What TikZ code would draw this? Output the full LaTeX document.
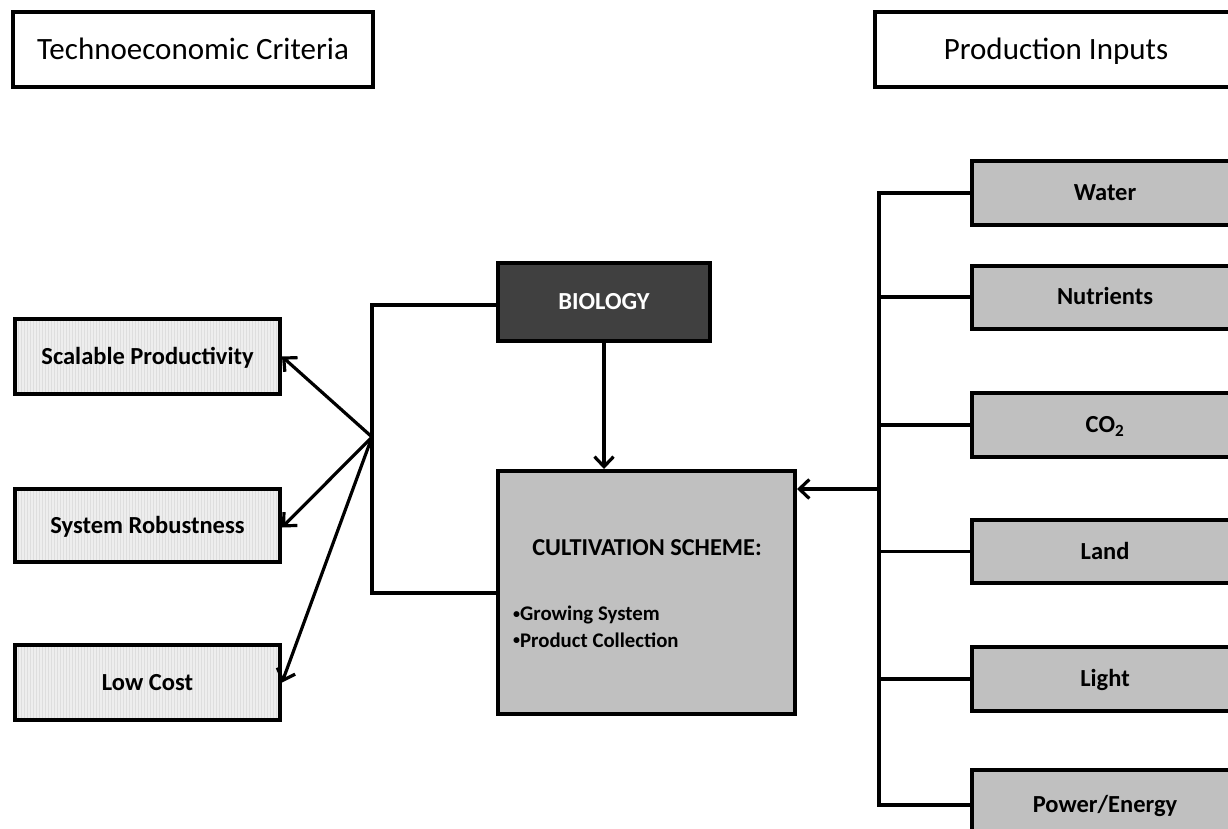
\documentclass[tikz,border=0pt]{standalone}
\usepackage{fontspec}
\setmainfont{Carlito}
\usetikzlibrary{arrows.meta,patterns}
\definecolor{leftfill}{RGB}{238,238,238}
\definecolor{stripe}{RGB}{222,222,222}
\definecolor{rightfill}{RGB}{192,192,192}
\definecolor{biofill}{RGB}{64,64,64}
\newcommand{\smallbul}{\raisebox{0.12em}{\fontsize{14}{14}\selectfont •}}
\tikzset{
  box/.style={draw=black, line width=4pt, rectangle, inner sep=0pt, align=center, text depth=0pt},
  headbox/.style={box, fill=white, minimum width=360pt, minimum height=75pt, font=\fontsize{31}{36}\selectfont, text height=20pt},
  critbox/.style={box, preaction={fill=leftfill}, pattern=vertical lines, pattern color=stripe, minimum width=265pt, minimum height=75pt, font=\bfseries\fontsize{24.5}{29}\selectfont, text height=15.7pt},
  inbox/.style={box, fill=rightfill, minimum width=266pt, minimum height=63pt, font=\bfseries\fontsize{24.5}{29}\selectfont, text height=15.7pt},
  conn/.style={line width=3.2pt},
  arr/.style={conn, -{Straight Barb[length=10pt,width=19pt,line width=3.2pt]}},
}
\begin{document}
\begin{tikzpicture}[x=1pt,y=-1pt]
\useasboundingbox (0,0) rectangle (1228,829);
% headers
\node[headbox] (tec) at (193,49.5) {Technoeconomic Criteria};
\node[headbox, minimum width=362pt] (pin) at (1056,49.5) {Production Inputs};
% criteria
\node[critbox] (sp) at (147.5,356.5) {Scalable Productivity};
\node[critbox, minimum height=73pt] (sr) at (147.5,525.5) {System Robustness};
\node[critbox] (lc) at (147.5,682.5) {Low Cost};
% biology
\node[box, fill=biofill, text=white, minimum width=212pt, minimum height=78pt, font=\bfseries\fontsize{24.5}{29}\selectfont, text height=15.7pt] (bio) at (604,302) {BIOLOGY};
% cultivation
\node[box, fill=rightfill, minimum width=297pt, minimum height=243pt] (cult) at (646.5,592.5) {};
\node[font=\bfseries\fontsize{24.3}{29}\selectfont] (ctitle) at (647,548) {CULTIVATION SCHEME:};
\node[font=\bfseries\fontsize{20.8}{24}\selectfont, anchor=west, inner sep=0pt] (b1) at (513,615) {\smallbul Growing System};
\node[font=\bfseries\fontsize{20.8}{24}\selectfont, anchor=west, inner sep=0pt] (b2) at (513,640) {\smallbul Product Collection};
% inputs
\node[inbox] (water) at (1105,193) {Water};
\node[inbox] (nut) at (1105,297) {Nutrients};
\node[inbox, minimum height=64pt] (co2) at (1105,425) {CO\textsubscript{2}};
\node[inbox] (land) at (1105,551.5) {Land};
\node[inbox, minimum height=64pt] (light) at (1105,679) {Light};
\node[inbox, minimum height=70pt] (power) at (1105,805) {Power/Energy};
% left connectors
\coordinate (ltop) at (372,305);
\coordinate (lbot) at (372,593);
\coordinate (hub) at (372,437);
\draw[conn] (bio.west|-ltop) -- (ltop) -- (lbot) -- (cult.west|-lbot);
\draw[arr] (hub) -- (sp.east);
\draw[arr] (hub) -- ([yshift=-2pt]sr.east);
\draw[arr] (hub) -- (lc.east);
% biology to cultivation
\draw[arr] (bio.south) -- (bio.south|-cult.north);
% right connectors
\coordinate (rtop) at (879,193);
\coordinate (rbot) at (879,805);
\coordinate (rmid) at (879,489);
\draw[conn] (water.west) -- (rtop) -- (rbot) -- (power.west);
\draw[conn] (nut.west) -- (nut.west-|rtop);
\draw[conn] (co2.west) -- (co2.west-|rtop);
\draw[conn] (land.west) -- (land.west-|rtop);
\draw[conn] (light.west) -- (light.west-|rtop);
\draw[arr] (rmid) -- (cult.east|-rmid);
\end{tikzpicture}
\end{document}
